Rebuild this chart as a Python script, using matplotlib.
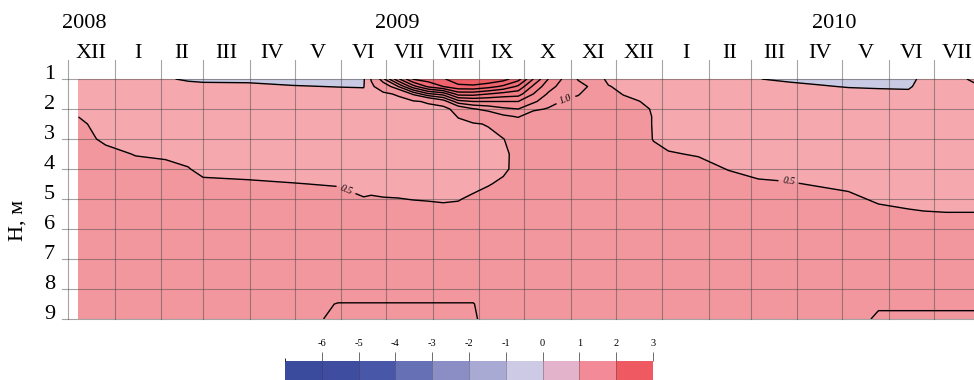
import numpy as np
import matplotlib
matplotlib.use("Agg")
import matplotlib.pyplot as plt
from matplotlib.colors import ListedColormap, BoundaryNorm
from matplotlib.colorbar import ColorbarBase

plt.rcParams['font.family'] = ['Liberation Serif', 'DejaVu Serif']
plt.rcParams['axes.unicode_minus'] = False

# ---------------------------------------------------------------- data
START = np.datetime64('2008-12-01')

# depths of the profile nodes, m
depth_m = [1.0, 1.25, 1.5, 1.75, 2.0, 2.25, 2.5, 3.0, 3.5, 4.0,
           4.5, 5.0, 5.5, 6.0, 7.0, 8.0, 8.5, 9.0]

# profile dates
profile_dates = [
    '2008-12-08', '2008-12-26', '2009-01-15', '2009-02-04', '2009-02-19',
    '2009-03-01', '2009-03-31', '2009-04-30', '2009-05-30', '2009-06-16',
    '2009-06-21', '2009-06-29', '2009-07-09', '2009-07-19', '2009-07-29',
    '2009-08-08', '2009-08-18', '2009-08-28', '2009-09-07', '2009-09-17',
    '2009-09-27', '2009-10-07', '2009-10-17', '2009-10-27', '2009-11-06',
    '2009-11-16', '2009-11-26', '2009-12-06', '2009-12-16', '2009-12-26',
    '2010-01-05', '2010-01-25', '2010-02-14', '2010-03-06', '2010-03-26',
    '2010-04-15', '2010-05-05', '2010-05-25', '2010-06-14', '2010-06-24',
    '2010-07-09', '2010-07-22', '2010-08-05',
]

# temperature anomaly profiles, one row per date (values at depth_m)
anomaly = [
    [0.25, 0.30, 0.35, 0.40, 0.45, 0.497, 0.55, 0.58, 0.60, 0.60, 0.60, 0.61, 0.62, 0.62, 0.63, 0.64, 0.66, 0.68],
    [0.20, 0.25, 0.30, 0.33, 0.36, 0.38, 0.40, 0.46, 0.56, 0.60, 0.60, 0.61, 0.62, 0.62, 0.63, 0.64, 0.66, 0.68],
    [0.15, 0.20, 0.25, 0.29, 0.32, 0.35, 0.37, 0.42, 0.49, 0.57, 0.60, 0.61, 0.62, 0.62, 0.63, 0.64, 0.66, 0.68],
    [0.04, 0.15, 0.22, 0.27, 0.31, 0.34, 0.36, 0.41, 0.47, 0.55, 0.59, 0.61, 0.62, 0.62, 0.63, 0.64, 0.66, 0.68],
    [-0.05, 0.12, 0.20, 0.26, 0.30, 0.33, 0.35, 0.39, 0.44, 0.51, 0.56, 0.59, 0.61, 0.62, 0.63, 0.64, 0.66, 0.68],
    [-0.08, 0.10, 0.18, 0.24, 0.28, 0.31, 0.33, 0.37, 0.41, 0.45, 0.54, 0.58, 0.60, 0.62, 0.63, 0.64, 0.66, 0.68],
    [-0.10, 0.10, 0.18, 0.24, 0.28, 0.31, 0.33, 0.37, 0.41, 0.45, 0.52, 0.57, 0.60, 0.62, 0.63, 0.64, 0.66, 0.68],
    [-0.12, 0.02, 0.14, 0.21, 0.26, 0.30, 0.32, 0.36, 0.40, 0.44, 0.505, 0.56, 0.60, 0.62, 0.63, 0.64, 0.68, 0.75],
    [-0.15, -0.01, 0.12, 0.20, 0.25, 0.29, 0.31, 0.35, 0.39, 0.43, 0.49, 0.55, 0.59, 0.61, 0.62, 0.65, 1.03, 1.12],
    [-0.05, -0.02, 0.10, 0.17, 0.22, 0.26, 0.28, 0.32, 0.36, 0.40, 0.44, 0.51, 0.57, 0.60, 0.62, 0.65, 1.03, 1.12],
    [0.53, 0.42, 0.35, 0.30, 0.28, 0.28, 0.29, 0.32, 0.36, 0.40, 0.44, 0.52, 0.57, 0.60, 0.62, 0.65, 1.03, 1.12],
    [1.20, 0.75, 0.42, 0.35, 0.30, 0.29, 0.30, 0.32, 0.35, 0.39, 0.43, 0.51, 0.57, 0.60, 0.62, 0.65, 1.03, 1.12],
    [1.95, 1.25, 0.55, 0.38, 0.33, 0.30, 0.30, 0.32, 0.35, 0.39, 0.43, 0.505, 0.57, 0.60, 0.62, 0.65, 1.03, 1.12],
    [2.52, 1.90, 1.05, 0.45, 0.36, 0.32, 0.31, 0.32, 0.35, 0.39, 0.43, 0.495, 0.57, 0.60, 0.62, 0.65, 1.03, 1.12],
    [2.62, 2.30, 1.45, 0.55, 0.38, 0.33, 0.31, 0.32, 0.35, 0.39, 0.43, 0.49, 0.56, 0.60, 0.62, 0.65, 1.03, 1.12],
    [2.72, 2.50, 1.60, 0.85, 0.30, 0.30, 0.30, 0.32, 0.35, 0.39, 0.43, 0.48, 0.56, 0.60, 0.62, 0.65, 1.03, 1.12],
    [2.92, 2.68, 2.10, 1.40, 0.75, 0.52, 0.42, 0.38, 0.37, 0.39, 0.43, 0.49, 0.56, 0.60, 0.62, 0.65, 1.03, 1.12],
    [2.95, 2.70, 2.10, 1.50, 0.98, 0.70, 0.47, 0.40, 0.38, 0.40, 0.45, 0.53, 0.58, 0.60, 0.62, 0.65, 1.03, 1.12],
    [2.95, 2.60, 2.00, 1.50, 1.08, 0.80, 0.52, 0.42, 0.40, 0.42, 0.49, 0.56, 0.59, 0.61, 0.62, 0.64, 0.68, 0.70],
    [2.85, 2.45, 1.90, 1.50, 1.20, 0.95, 0.75, 0.49, 0.46, 0.47, 0.53, 0.57, 0.60, 0.61, 0.62, 0.64, 0.66, 0.68],
    [2.60, 2.20, 1.85, 1.50, 1.25, 1.02, 0.85, 0.65, 0.56, 0.55, 0.57, 0.60, 0.61, 0.62, 0.63, 0.64, 0.66, 0.68],
    [2.00, 1.70, 1.50, 1.30, 1.05, 0.85, 0.72, 0.62, 0.58, 0.57, 0.58, 0.60, 0.61, 0.62, 0.63, 0.64, 0.66, 0.68],
    [1.50, 1.35, 1.22, 1.10, 0.98, 0.85, 0.75, 0.64, 0.59, 0.58, 0.58, 0.60, 0.61, 0.62, 0.63, 0.64, 0.66, 0.68],
    [1.22, 1.15, 1.08, 0.98, 0.88, 0.80, 0.74, 0.65, 0.60, 0.59, 0.59, 0.60, 0.61, 0.62, 0.63, 0.64, 0.66, 0.68],
    [0.98, 1.08, 1.02, 0.92, 0.84, 0.77, 0.72, 0.65, 0.60, 0.59, 0.59, 0.60, 0.61, 0.62, 0.63, 0.64, 0.66, 0.68],
    [0.72, 0.95, 0.85, 0.78, 0.72, 0.68, 0.66, 0.62, 0.60, 0.59, 0.60, 0.60, 0.61, 0.62, 0.63, 0.64, 0.66, 0.68],
    [0.42, 0.52, 0.58, 0.60, 0.60, 0.60, 0.60, 0.60, 0.59, 0.59, 0.60, 0.60, 0.61, 0.62, 0.63, 0.64, 0.66, 0.68],
    [0.35, 0.42, 0.49, 0.56, 0.58, 0.59, 0.60, 0.60, 0.59, 0.59, 0.60, 0.60, 0.61, 0.62, 0.63, 0.64, 0.66, 0.68],
    [0.30, 0.35, 0.42, 0.51, 0.56, 0.58, 0.58, 0.57, 0.58, 0.59, 0.60, 0.60, 0.61, 0.62, 0.63, 0.64, 0.66, 0.68],
    [0.28, 0.32, 0.37, 0.43, 0.48, 0.49, 0.49, 0.495, 0.53, 0.56, 0.58, 0.60, 0.61, 0.62, 0.63, 0.64, 0.66, 0.68],
    [0.26, 0.30, 0.34, 0.37, 0.40, 0.42, 0.43, 0.46, 0.51, 0.55, 0.58, 0.60, 0.61, 0.62, 0.63, 0.64, 0.66, 0.68],
    [0.22, 0.27, 0.31, 0.34, 0.37, 0.39, 0.41, 0.44, 0.49, 0.545, 0.58, 0.60, 0.61, 0.62, 0.63, 0.64, 0.66, 0.68],
    [0.15, 0.22, 0.27, 0.31, 0.34, 0.36, 0.38, 0.41, 0.45, 0.495, 0.55, 0.58, 0.60, 0.62, 0.63, 0.64, 0.66, 0.68],
    [0.01, 0.15, 0.22, 0.27, 0.30, 0.33, 0.35, 0.38, 0.42, 0.46, 0.52, 0.57, 0.60, 0.62, 0.63, 0.64, 0.66, 0.68],
    [-0.08, 0.12, 0.20, 0.25, 0.29, 0.32, 0.34, 0.37, 0.41, 0.45, 0.51, 0.56, 0.59, 0.61, 0.63, 0.64, 0.66, 0.68],
    [-0.10, 0.03, 0.15, 0.22, 0.27, 0.30, 0.32, 0.36, 0.40, 0.44, 0.49, 0.55, 0.58, 0.60, 0.62, 0.64, 0.66, 0.68],
    [-0.12, -0.02, 0.12, 0.20, 0.25, 0.29, 0.31, 0.35, 0.39, 0.43, 0.47, 0.53, 0.58, 0.60, 0.62, 0.64, 0.66, 0.70],
    [-0.14, -0.04, 0.10, 0.19, 0.24, 0.28, 0.30, 0.34, 0.38, 0.41, 0.44, 0.48, 0.54, 0.58, 0.62, 0.66, 0.92, 1.10],
    [-0.12, -0.05, 0.08, 0.18, 0.23, 0.27, 0.29, 0.33, 0.37, 0.40, 0.43, 0.46, 0.52, 0.57, 0.61, 0.66, 0.92, 1.10],
    [0.10, 0.14, 0.18, 0.22, 0.25, 0.28, 0.30, 0.33, 0.37, 0.40, 0.43, 0.46, 0.51, 0.56, 0.61, 0.66, 0.92, 1.10],
    [0.25, 0.26, 0.26, 0.27, 0.28, 0.30, 0.31, 0.34, 0.37, 0.40, 0.43, 0.46, 0.505, 0.56, 0.61, 0.66, 0.92, 1.10],
    [0.48, 0.35, 0.30, 0.29, 0.29, 0.30, 0.31, 0.34, 0.37, 0.40, 0.43, 0.46, 0.505, 0.56, 0.61, 0.66, 0.92, 1.10],
    [0.78, 0.55, 0.42, 0.35, 0.32, 0.31, 0.32, 0.34, 0.37, 0.40, 0.43, 0.46, 0.505, 0.56, 0.61, 0.66, 0.92, 1.10],
]

month_names = ['XII', 'I', 'II', 'III', 'IV', 'V', 'VI', 'VII', 'VIII', 'IX',
               'X', 'XI', 'XII', 'I', 'II', 'III', 'IV', 'V', 'VI', 'VII']
year_labels = ['2008', '2009', '2010']
depth_ticks = [1, 2, 3, 4, 5, 6, 7, 8, 9]

labelled_levels = [0.5, 1.0]
plain_levels = [0.0, 1.25, 1.5, 1.75, 2.0, 2.25, 2.5, 2.75]
fill_levels = [-1.0, 0.0, 0.5, 1.25, 1.5, 1.75, 2.0, 2.25, 2.5, 2.75, 3.0]
fill_colors = ['#C9CAE4', '#F5A9AF', '#F3979E', '#F28D94', '#F2848B',
               '#F17B83', '#F0737B', '#F06B73', '#EF646C', '#EE5C64']

bar_bounds = [-7, -6, -5, -4, -3, -2, -1, 0, 1, 2, 3]
bar_ticks = [-6, -5, -4, -3, -2, -1, 0, 1, 2, 3]
bar_colors = ['#3A4A9C', '#3E4DA0', '#4857A8', '#6670B4', '#8A8EC4',
              '#A8AAD4', '#CCCAE4', '#E3B3CC', '#F28A97', '#EF5A62']

# ---------------------------------------------------------------- layout
W, H = 974, 380
X0_PX = 68            # 1 Dec 2008
Y0_PX = 79            # depth 1 m
PX_PER_DAY = 866 / 577
PX_PER_M = 30

fig = plt.figure(figsize=(W / 100, H / 100), dpi=100)
fig.patch.set_facecolor('white')

x_max = (W - X0_PX) / PX_PER_DAY
ax = fig.add_axes([X0_PX / W, 1 - (Y0_PX + 8 * PX_PER_M) / H,
                   (W - X0_PX) / W, 8 * PX_PER_M / H])
ax.set_xlim(0, x_max)
ax.set_ylim(9, 1)
ax.set_axis_off()

days = (np.array(profile_dates, dtype='datetime64[D]') - START).astype(float)
z = np.array(anomaly).T

ax.contourf(days, depth_m, z, levels=fill_levels, colors=fill_colors, zorder=1)
ax.contour(days, depth_m, z, levels=plain_levels, colors='black',
           linewidths=1.0, zorder=3)
cs = ax.contour(days, depth_m, z, levels=labelled_levels, colors='black',
                linewidths=1.0, zorder=3)

labels = cs.clabel(fmt='%.1f', fontsize=7, inline=True, inline_spacing=4,
                   manual=[(186, 4.6), (480, 4.45), (332, 1.75)])
for t in labels:
    t.set_fontfamily('Liberation Serif')
    t.set_fontstyle('italic')

# month grid
grid_kw = dict(color='#4a4a4a', alpha=0.5, linewidth=0.8, clip_on=False, zorder=2)
bounds = np.arange('2008-12', '2010-09', dtype='datetime64[M]').astype('datetime64[D]')
bound_days = (bounds - START).astype(float)
y_top = 1 + (60 - Y0_PX) / PX_PER_M
for b in bound_days:
    if b <= x_max:
        ax.plot([b, b], [9, y_top], **grid_kw)
x_left = (62 - X0_PX) / PX_PER_DAY
for d in depth_ticks:
    ax.plot([x_left, x_max], [d, d], **grid_kw)

# month labels
y_month = 1 + (58.3 - Y0_PX) / PX_PER_M
for name, a, b in zip(month_names, bound_days[:-1], bound_days[1:]):
    ax.text((a + b) / 2, y_month, name, ha='center', va='baseline',
            fontsize=16, clip_on=False)

# year labels
for label, xp in zip(year_labels, [84.5, 397.5, 834]):
    fig.text(xp / W, 1 - 28.3 / H, label, ha='center', va='baseline', fontsize=16)

# depth labels
x_dlab = (55 - X0_PX) / PX_PER_DAY
for d in depth_ticks:
    ax.text(x_dlab, d, str(d), ha='right', va='baseline', fontsize=16, clip_on=False)

fig.text(18 / W, 1 - 220 / H, 'H, м', rotation=90, ha='center', va='center',
         fontsize=16)

# colour scale
cax = fig.add_axes([285 / W, 0, 368 / W, 19 / H])
cb = ColorbarBase(cax, cmap=ListedColormap(bar_colors),
                  norm=BoundaryNorm(bar_bounds, len(bar_colors)),
                  orientation='horizontal', ticks=bar_ticks, drawedges=True)
cb.outline.set_visible(False)
cb.dividers.set_color('#333333')
cb.dividers.set_linewidth(0.4)
cb.dividers.set_alpha(0.6)
cax.xaxis.set_ticks_position('top')
cax.xaxis.set_label_position('top')
cax.tick_params(axis='x', direction='out', length=6.5, width=0.6,
                color='#555555', labelsize=7.5, pad=3)
cax.set_xticklabels([str(t) for t in bar_ticks])

fig.savefig('out.png', dpi=100)
